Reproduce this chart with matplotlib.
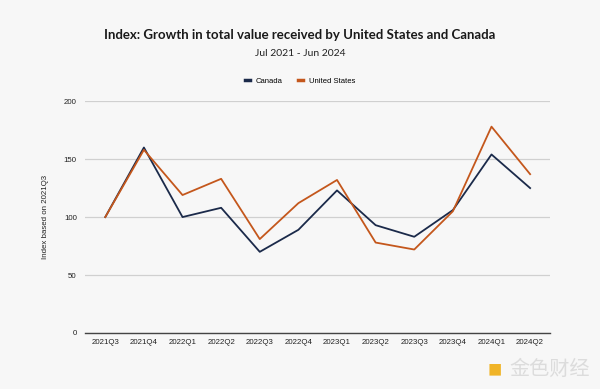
import matplotlib.pyplot as plt

quarters = ['2021Q3', '2021Q4', '2022Q1', '2022Q2', '2022Q3', '2022Q4',
            '2023Q1', '2023Q2', '2023Q3', '2023Q4', '2024Q1', '2024Q2']
canada = [100, 160, 100, 108, 70, 89, 123, 93, 83, 106, 154, 125]
united_states = [100, 158, 119, 133, 81, 112, 132, 78, 72, 105, 178, 137]

bg = '#f7f7f7'
plt.rcParams['font.family'] = ['Liberation Sans', 'DejaVu Sans']
fig = plt.figure(figsize=(6, 3.89), dpi=100, facecolor=bg)
ax = fig.add_axes([0.142, 0.144, 0.775, 0.596], facecolor=bg)

x = list(range(len(quarters)))
ax.plot(x, canada, color='#1b2a4a', lw=1.3, label='Canada')
ax.plot(x, united_states, color='#c4571c', lw=1.3, label='United States')

ax.set_xlim(-0.52, len(quarters) - 0.48)
ax.set_ylim(0, 200)
ax.set_yticks([0, 50, 100, 150, 200])
ax.set_xticks(x)
ax.set_xticklabels(quarters)
ax.tick_params(axis='both', labelsize=5.7, length=0, colors='#222222')
ax.tick_params(axis='x', pad=4)
ax.tick_params(axis='y', pad=6)
ax.grid(axis='y', color='#d0d0d0', lw=0.9)
ax.set_axisbelow(True)
for s in ['top', 'right', 'left']:
    ax.spines[s].set_visible(False)
ax.spines['bottom'].set_color('#444444')
ax.spines['bottom'].set_linewidth(1.0)
ax.set_ylabel('Index based on 2021Q3', fontsize=5.7, color='#222222', labelpad=11)

fig.text(0.5, 0.9, 'Index: Growth in total value received by United States and Canada',
         ha='center', fontsize=9.5, fontweight='bold', color='#1a1a1a', family='Lato')
fig.text(0.5, 0.856, 'Jul 2021 - Jun 2024', ha='center', fontsize=7.5,
         color='#222222', family='Lato')

leg = fig.legend(loc='center', bbox_to_anchor=(0.5, 0.792), ncol=2, frameon=False,
                 fontsize=5.5, handlelength=0.7, handletextpad=0.7, columnspacing=2.0)
for line in leg.get_lines():
    line.set_linewidth(2.5)

# watermark
fig.text(0.983, 0.049, '金色财经', ha='right', va='center', fontsize=14.5, color='#dcdcdc',
         family=['Noto Sans CJK SC', 'DejaVu Sans'])
fig.text(0.825, 0.049, '■', ha='center', va='center', fontsize=17, color='#f0b428')

fig.savefig('out.png', dpi=100, facecolor=bg)
